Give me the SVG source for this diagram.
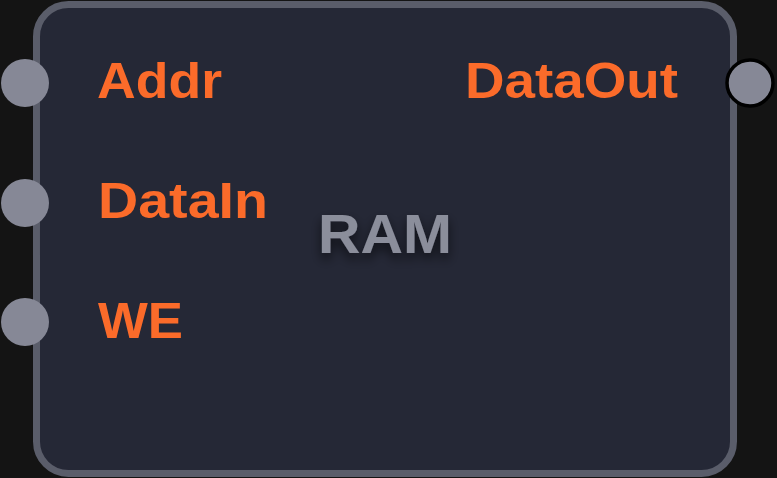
<svg xmlns="http://www.w3.org/2000/svg" width="777" height="478" viewBox="0 0 777 478">
<defs>
<style>
.lbl{font-family:"Liberation Sans",Arial,sans-serif;font-weight:bold;font-size:50px;fill:#fb6b2a}
.title{font-family:"Liberation Sans",Arial,sans-serif;font-weight:bold;font-size:55px;fill:#8b8e9b}
.port{fill:#868896}
</style>
<filter id="sh" x="-30%" y="-30%" width="160%" height="180%">
<feDropShadow dx="0" dy="6" stdDeviation="6" flood-color="#000" flood-opacity="0.6"/>
</filter>
</defs>
<rect width="777" height="478" fill="#141414"/>
<g id="ram">
<rect x="36.5" y="4.5" width="697" height="469" rx="32" fill="#252836" stroke="#5a5d6a" stroke-width="7"/>
<text class="title" x="318" y="253" textLength="134" lengthAdjust="spacingAndGlyphs" filter="url(#sh)">RAM</text>
</g>
<g id="port-addr">
<circle class="port" cx="25" cy="83" r="24"/>
<text class="lbl" x="97" y="98" textLength="125" lengthAdjust="spacingAndGlyphs">Addr</text>
</g>
<g id="port-datain">
<circle class="port" cx="25" cy="203" r="24"/>
<text class="lbl" x="98" y="218" textLength="170" lengthAdjust="spacingAndGlyphs">DataIn</text>
</g>
<g id="port-we">
<circle class="port" cx="25" cy="322" r="24"/>
<text class="lbl" x="98" y="338" textLength="85" lengthAdjust="spacingAndGlyphs">WE</text>
</g>
<g id="port-dataout">
<circle class="port" cx="750" cy="83" r="23" stroke="#000" stroke-width="3.5"/>
<text class="lbl" x="465" y="98" textLength="213" lengthAdjust="spacingAndGlyphs">DataOut</text>
</g>
<g id="connectors"></g>
</svg>
